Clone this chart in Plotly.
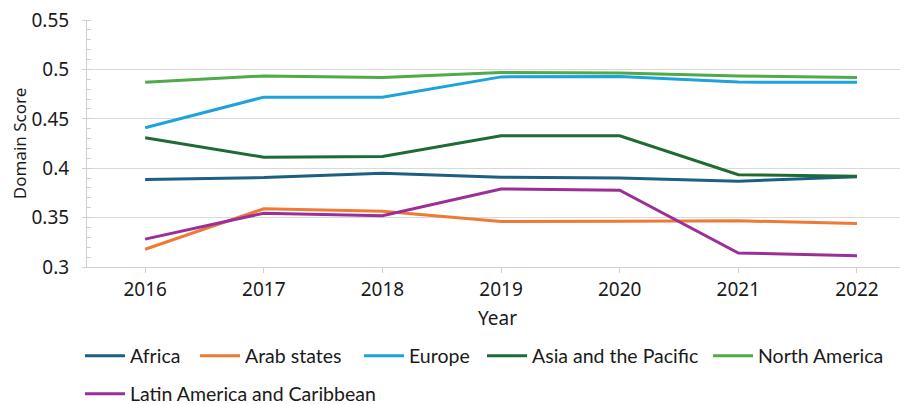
import plotly.graph_objects as go

years = ["2016", "2017", "2018", "2019", "2020", "2021", "2022"]
africa = [0.3887, 0.3905, 0.3950, 0.3910, 0.3900, 0.3868, 0.3915]
arab_states = [0.3180, 0.3590, 0.3565, 0.3460, 0.3462, 0.3468, 0.3440]
europe = [0.4410, 0.4720, 0.4720, 0.4925, 0.4930, 0.4872, 0.4870]
asia_pacific = [0.4308, 0.4112, 0.4120, 0.4330, 0.4328, 0.3935, 0.3920]
north_america = [0.4870, 0.4935, 0.4920, 0.4970, 0.4965, 0.4935, 0.4920]
latin_america = [0.3282, 0.3545, 0.3520, 0.3790, 0.3778, 0.3142, 0.3115]

series = [
    ("Africa", africa, "#1D5F82"),
    ("Arab states", arab_states, "#EE7A35"),
    ("Europe", europe, "#1CA3DC"),
    ("Asia and the Pacific", asia_pacific, "#1E6B35"),
    ("North America", north_america, "#4FAA47"),
    ("Latin America and Caribbean", latin_america, "#9C2F97"),
]

# figure is placed 8px in from page edge (default body margin)
OFF = 8
L, T, W, H = 87 - OFF, 20 - OFF, 821, 247
# legend entry placement (figure px x of line start, figure px y of row center)
legend_pos = [(85 - OFF, 356 - OFF), (200 - OFF, 356 - OFF), (364 - OFF, 356 - OFF),
              (487 - OFF, 356 - OFF), (713 - OFF, 356 - OFF), (85 - OFF, 394 - OFF)]

FONT = "Noto Sans"
LFONT = "Lato"
fig = go.Figure()
layout_legends = {}
for i, ((name, vals, col), (px, py)) in enumerate(zip(series, legend_pos)):
    key = "legend" if i == 0 else f"legend{i+1}"
    fig.add_trace(go.Scatter(x=years, y=vals, name=name, mode="lines",
                             line=dict(color=col, width=3), legend=key))
    layout_legends[key] = dict(
        orientation="h", x=(px - 5 - L) / W, xanchor="left",
        y=(T + H - py) / H, yanchor="middle",
        font=dict(size=19.5, family=LFONT, color="#1a1a1a"), itemwidth=40,
        bgcolor="rgba(0,0,0,0)", borderwidth=0)

fig.update_layout(
    width=908, height=404,
    margin=dict(l=L, r=908 - L - W, t=T, b=404 - T - H, autoexpand=False),
    plot_bgcolor="white", paper_bgcolor="white",
    font=dict(family=FONT, size=18, color="#1a1a1a"),
    showlegend=True,
    xaxis=dict(type="category", range=[-0.49, 6.43], automargin=False,
               showgrid=False, showline=True, linecolor="#d0d0d0", linewidth=1,
               ticks="outside", ticklen=5, tickcolor="#d0d0d0",
               tickfont=dict(size=19),
               title=dict(text="Year", font=dict(size=19), standoff=10)),
    yaxis=dict(range=[0.3, 0.5501], dtick=0.05, tickformat="~g", automargin=False,
               showgrid=True, gridcolor="#d9d9d9", gridwidth=1,
               showline=True, linecolor="#d0d0d0", linewidth=1,
               ticks="outside", ticklen=4, tickcolor="#d0d0d0",
               tickfont=dict(size=19), ticklabelstandoff=9,
               ticklabeloverflow="allow",
               minor=dict(dtick=0.01, ticks="inside", ticklen=4, tickcolor="#d0d0d0", showgrid=False),
               zeroline=False,
               title=dict(text="Domain Score", font=dict(size=17), standoff=6)),
    **layout_legends,
)

fig.write_html("out.html", config={"displayModeBar": False})
